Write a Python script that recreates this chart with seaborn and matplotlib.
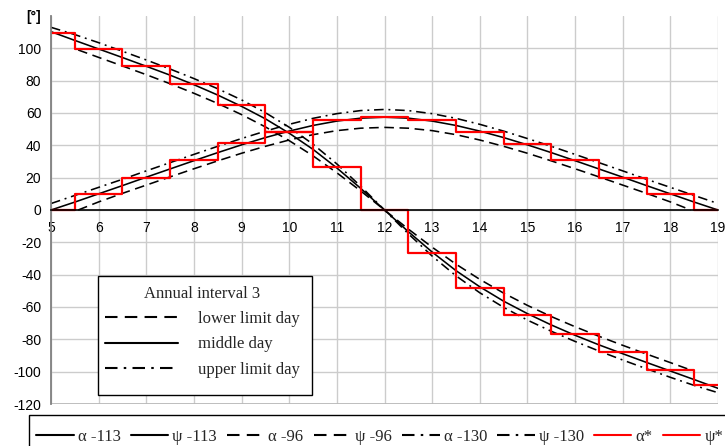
import matplotlib
matplotlib.use("Agg")
import matplotlib.pyplot as plt
from matplotlib.lines import Line2D
from matplotlib.patches import Rectangle
import seaborn as sns

sns.set_style("white")
plt.rcParams['font.family'] = ['Liberation Sans', 'DejaVu Sans']

# ---------------- data ----------------
hours = [5, 5.5, 6, 6.5, 7, 7.5, 8, 8.5, 9, 9.5, 10, 10.5, 11, 11.5, 12,
         12.5, 13, 13.5, 14, 14.5, 15, 15.5, 16, 16.5, 17, 17.5, 18, 18.5, 19]

# middle day (-113)
alpha_113 = [110.3, 104.9, 99.6, 94.3, 88.9, 83.4, 77.5, 71.1, 64.1, 56.4, 47.5, 37.5, 26.0, 13.4, 0.0,
             -13.4, -26.0, -37.5, -47.5, -56.4, -64.1, -71.1, -77.5, -83.4, -88.9, -94.3, -99.6, -104.9, -110.3]
psi_113 = [0.0, 4.9, 10.0, 15.1, 20.3, 25.4, 30.5, 35.5, 40.3, 44.8, 48.8, 52.3, 55.0, 56.8, 57.4,
           56.8, 55.0, 52.3, 48.8, 44.8, 40.3, 35.5, 30.5, 25.4, 20.3, 15.1, 10.0, 4.9, 0.0]

# lower limit day (-96), sunrise ~5.57, sunset ~18.43
hours_96 = [5.57, 6, 6.5, 7, 7.5, 8, 8.5, 9, 9.5, 10, 10.5, 11, 11.5, 12,
            12.5, 13, 13.5, 14, 14.5, 15, 15.5, 16, 16.5, 17, 17.5, 18, 18.43]
alpha_96 = [99.0, 94.4, 89.1, 83.7, 78.1, 72.2, 65.9, 59.0, 51.4, 42.9, 33.5, 23.0, 11.8, 0.0,
            -11.8, -23.0, -33.5, -42.9, -51.4, -59.0, -65.9, -72.2, -78.1, -83.7, -89.1, -94.4, -99.0]
psi_96 = [0.0, 5.0, 10.3, 15.4, 20.5, 25.5, 30.4, 35.1, 39.4, 43.3, 46.6, 49.1, 50.6, 51.1,
          50.6, 49.1, 46.6, 43.3, 39.4, 35.1, 30.4, 25.5, 20.5, 15.4, 10.3, 5.0, 0.0]

# upper limit day (-130)
alpha_130 = [113.0, 108.5, 103.5, 98.2, 92.8, 87.2, 81.3, 75.0, 68.1, 60.2, 51.2, 40.7, 28.5, 14.7, 0.0,
             -14.7, -28.5, -40.7, -51.2, -60.2, -68.1, -75.0, -81.3, -87.2, -92.8, -98.2, -103.5, -108.5, -113.0]
psi_130 = [4.0, 9.0, 14.0, 19.0, 24.2, 29.3, 34.4, 39.4, 44.2, 48.8, 53.0, 56.7, 59.6, 61.5, 62.2,
           61.5, 59.6, 56.7, 53.0, 48.8, 44.2, 39.4, 34.4, 29.3, 24.2, 19.0, 14.0, 9.0, 4.0]

# step approximations
step_edges = [5, 5.5, 6.5, 7.5, 8.5, 9.5, 10.5, 11.5, 12.5, 13.5, 14.5, 15.5, 16.5, 17.5, 18.5, 19]
alpha_star = [109.5, 99.8, 88.9, 78.0, 64.8, 48.5, 26.8, 0.0, -26.8, -48.5, -64.8, -77.0, -88.0, -99.0, -108.5]
psi_star = [0.0, 9.7, 19.6, 30.9, 41.3, 48.3, 55.6, 57.4, 55.6, 48.5, 40.8, 30.9, 20.0, 9.7, 0.0]

x_ticks = list(range(5, 20))
y_ticks = list(range(-120, 121, 20))
y_labels = [str(v) for v in y_ticks[:-1]] + ['[°]']

legend_title = 'Annual interval 3'
inner_labels = ['lower limit day', 'middle day', 'upper limit day']
bottom_labels = ['α -113', 'ψ -113', 'α -96', 'ψ -96', 'α -130', 'ψ -130', 'α*', 'ψ*']

# ---------------- styles ----------------
DASH = (0, (6, 3.5))
DASHDOT = (0, (6, 3, 1.2, 3))
LW = 1.15
RED = '#ff0000'
SERIF = ['Liberation Serif', 'DejaVu Serif']
W, H = 725, 446

fig = plt.figure(figsize=(7.25, 4.46), dpi=100)
ax = fig.add_axes([51 / W, 1 - 404 / H, 667 / W, 388 / H])

common = dict(ax=ax, errorbar=None, estimator=None, sort=False, legend=False)
sns.lineplot(x=hours, y=alpha_113, color='black', lw=LW, **common)
sns.lineplot(x=hours, y=psi_113, color='black', lw=LW, **common)
sns.lineplot(x=hours_96, y=alpha_96, color='black', lw=LW, linestyle=DASH, **common)
sns.lineplot(x=hours_96, y=psi_96, color='black', lw=LW, linestyle=DASH, **common)
sns.lineplot(x=hours, y=alpha_130, color='black', lw=LW, linestyle=DASHDOT, **common)
sns.lineplot(x=hours, y=psi_130, color='black', lw=LW, linestyle=DASHDOT, **common)
sns.lineplot(x=step_edges, y=alpha_star + alpha_star[-1:], color=RED, lw=1.6,
             drawstyle='steps-post', **common)
sns.lineplot(x=step_edges, y=psi_star + psi_star[-1:], color=RED, lw=1.6,
             drawstyle='steps-post', **common)

ax.set_xlim(5, 19)
ax.set_ylim(-120, 120)
ax.set_xticks(x_ticks)
ax.set_xticklabels([str(v) for v in x_ticks])
ax.set_yticks(y_ticks)
ax.set_yticklabels(y_labels)
ax.set_xlabel('')
ax.set_ylabel('')

for lab in ax.get_yticklabels():
    if lab.get_text() == '[°]':
        lab.set_fontweight('bold')
        lab.set_fontsize(11)

ax.grid(True, color='#cccccc', lw=1)
ax.set_axisbelow(True)
ygl = ax.get_ygridlines()
ygl[-1].set_visible(False)
ygl[0].set_color('#b8b8b8')
ygl[0].set_linewidth(2)
xgl = ax.get_xgridlines()
xgl[-1].set_color('#b8b8b8')
xgl[-1].set_linewidth(2)

ax.spines['top'].set_visible(False)
ax.spines['right'].set_visible(False)
ax.spines['bottom'].set_position(('data', 0))
ax.spines['bottom'].set_color('black')
ax.spines['bottom'].set_linewidth(1.2)
ax.spines['left'].set_color('#808080')
ax.spines['left'].set_linewidth(1.3)

ax.tick_params(axis='x', direction='out', length=5, width=1, color='black',
               labelsize=10, pad=3, labelcolor='black')
ax.tick_params(axis='y', direction='out', length=4, width=1, color='#808080',
               labelsize=10, pad=3, labelcolor='black')

# inner legend frame + legend
fig.add_artist(Rectangle((98 / W, 1 - 395 / H), 214 / W, 119 / H, transform=fig.transFigure,
                         facecolor='white', edgecolor='black', lw=1, zorder=3))
inner_handles = [Line2D([], [], color='black', lw=1.5, linestyle=DASH),
                 Line2D([], [], color='black', lw=1.5),
                 Line2D([], [], color='black', lw=1.5, linestyle=DASHDOT)]
leg = fig.legend(inner_handles, inner_labels, title=legend_title, loc='upper left',
                 bbox_to_anchor=(105 / W, 1 - 286 / H),
                 prop={'family': SERIF, 'size': 12},
                 title_fontproperties={'family': SERIF, 'size': 12},
                 frameon=False, handlelength=4.4, handletextpad=1.15,
                 labelspacing=0.55, borderpad=0, borderaxespad=0)
leg.set_zorder(6)

# bottom legend frame + legend
fig.add_artist(Rectangle((29 / W, -0.2), 1.0, 0.2 + 1 - 415 / H, transform=fig.transFigure,
                         facecolor='white', edgecolor='black', lw=1, zorder=3))
bottom_handles = [Line2D([], [], color='black', lw=1.5),
                  Line2D([], [], color='black', lw=1.5),
                  Line2D([], [], color='black', lw=1.5, linestyle=DASH),
                  Line2D([], [], color='black', lw=1.5, linestyle=DASH),
                  Line2D([], [], color='black', lw=1.5, linestyle=DASHDOT),
                  Line2D([], [], color='black', lw=1.5, linestyle=DASHDOT),
                  Line2D([], [], color=RED, lw=1.5),
                  Line2D([], [], color=RED, lw=1.5)]
bleg = fig.legend(bottom_handles, bottom_labels, loc='center left',
                  bbox_to_anchor=(36 / W, 1 - 437 / H), ncol=8,
                  prop={'family': SERIF, 'size': 12},
                  frameon=False, handlelength=2.25, handletextpad=0.25,
                  columnspacing=0.6, borderpad=0, borderaxespad=0)
bleg.set_zorder(6)

fig.savefig('out.png', dpi=100, facecolor='white')
